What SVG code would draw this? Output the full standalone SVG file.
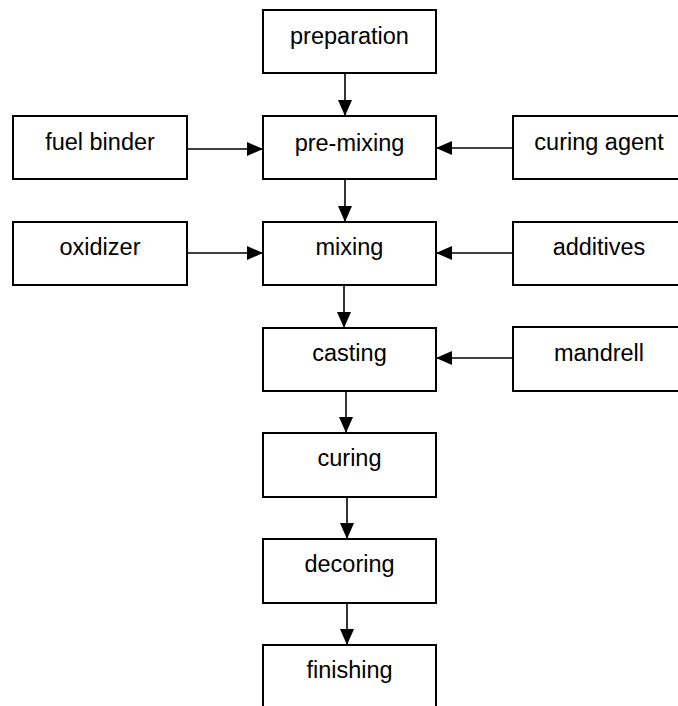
<svg xmlns="http://www.w3.org/2000/svg" width="678" height="706" viewBox="0 0 678 706">
<style>
.box{fill:#fff;stroke:#000;stroke-width:2}
.lbl{font-family:"Liberation Sans",Arial,sans-serif;font-size:23.5px;fill:#000;text-anchor:middle}
.edge{stroke:#000;stroke-width:1.6;fill:none;marker-end:url(#ah)}
</style>
<defs>
<marker id="ah" viewBox="0 0 16 14" refX="16" refY="7" markerWidth="16" markerHeight="14" markerUnits="userSpaceOnUse" orient="auto">
<path d="M0,0 L16,7 L0,14 z" fill="#000"/>
</marker>
</defs>
<rect width="678" height="706" fill="#fff"/>
<g id="connectors">
<line class="edge" x1="345" y1="73" x2="345" y2="116"/>
<line class="edge" x1="345" y1="179" x2="345" y2="222"/>
<line class="edge" x1="344" y1="285" x2="344" y2="328"/>
<line class="edge" x1="346" y1="391" x2="346" y2="433"/>
<line class="edge" x1="347" y1="497" x2="347" y2="539"/>
<line class="edge" x1="347" y1="603" x2="347" y2="645"/>
<line class="edge" x1="187" y1="149" x2="263" y2="149"/>
<line class="edge" x1="187" y1="253" x2="263" y2="253"/>
<line class="edge" x1="513" y1="148" x2="436" y2="148"/>
<line class="edge" x1="513" y1="253" x2="436" y2="253"/>
<line class="edge" x1="513" y1="358" x2="436" y2="358"/>
</g>
<g id="preparation"><rect class="box" x="263" y="10" width="173" height="63"/><text class="lbl" x="349.5" y="44">preparation</text></g>
<g id="pre-mixing"><rect class="box" x="263" y="116" width="173" height="63"/><text class="lbl" x="349.5" y="151">pre-mixing</text></g>
<g id="mixing"><rect class="box" x="263" y="222" width="173" height="63"/><text class="lbl" x="349.5" y="255">mixing</text></g>
<g id="casting"><rect class="box" x="263" y="328" width="173" height="63"/><text class="lbl" x="349.5" y="361">casting</text></g>
<g id="curing"><rect class="box" x="263" y="433" width="173" height="64"/><text class="lbl" x="349.5" y="466">curing</text></g>
<g id="decoring"><rect class="box" x="263" y="539" width="173" height="64"/><text class="lbl" x="349.5" y="572">decoring</text></g>
<g id="finishing"><rect class="box" x="263" y="645" width="173" height="70"/><text class="lbl" x="349.5" y="678">finishing</text></g>
<g id="fuel-binder"><rect class="box" x="13" y="116" width="174" height="63"/><text class="lbl" x="100" y="150">fuel binder</text></g>
<g id="oxidizer"><rect class="box" x="13" y="222" width="174" height="63"/><text class="lbl" x="100" y="255">oxidizer</text></g>
<g id="curing-agent"><rect class="box" x="513" y="116" width="173" height="63"/><text class="lbl" x="599" y="150">curing agent</text></g>
<g id="additives"><rect class="box" x="513" y="222" width="173" height="63"/><text class="lbl" x="599" y="255">additives</text></g>
<g id="mandrell"><rect class="box" x="513" y="327" width="173" height="64"/><text class="lbl" x="599" y="361">mandrell</text></g>
</svg>
